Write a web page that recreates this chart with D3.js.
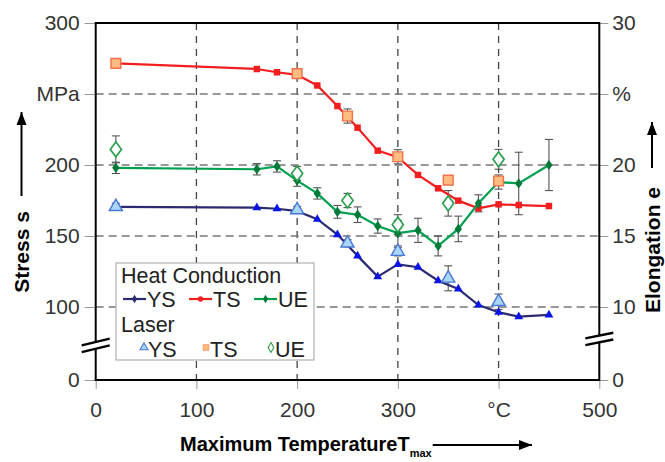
<!DOCTYPE html>
<html><head><meta charset="utf-8">
<script src="https://cdn.jsdelivr.net/npm/d3@7"></script>
<style>
html,body{margin:0;padding:0;background:#fff;}
svg{display:block;font-family:"Liberation Sans",Arial,sans-serif;}
</style></head>
<body><svg id="c" width="665" height="462"></svg>
<script>
// ---- data ----
const hcTemps = [20,160,180,200,220,240,260,280,300,320,340,360,380,400,420,450];
const hcYS = [170.5,170,169.2,167.5,161.8,151,136,121.4,130,128,118.5,112.7,101.4,96.3,93.2,94.4];
const hcTS = [271.5,267.6,265.3,263.5,256,241.5,226.3,210.1,205.5,193,183.6,174.9,169.5,172.3,171.8,171.1];
const hcUE = [19.8,19.7,19.9,18.9,18.0,16.7,16.5,15.7,15.2,15.4,14.3,15.5,17.3,18.8,18.7,20.0];
const hcUEerr = [0.4,0.4,0.4,0.4,0.4,0.45,0.55,0.5,0.9,0.85,0.7,0.9,0.6,0.5,2.2,1.8];
const laserTemps = [20,200,250,300,350,400];
const laserYS = [170.6,168.3,144.9,139,120.2,103.7];
const laserYSerr = [2.5,2.5,2.5,3,8.8,5.4];
const laserTS = [271.6,264.3,234.5,205.8,189.4,188.7];
const laserTSerr = [0,2,5,5,0,2];
const laserUE = [21.1,19.4,17.5,15.8,17.3,20.4];
const laserUEerr = [0.95,0.5,0.5,0.7,0.9,0.7];
const xTicks = [0,100,200,300,400,500];
const xTickLabels = ["0","100","200","300","°C","500"];
const yTicks = [0,100,150,200,250,300];
const yTickLabels = ["0","100","150","200","MPa","300"];
const y2Ticks = [0,10,15,20,25,30];
const y2TickLabels = ["0","10","15","20","%","30"];

// ---- layout ----
const L=95.7, R=599.3, T=23, B=380;
const svg = d3.select("#c");
const x = d3.scaleLinear().domain([0,500]).range([L,R]);
// broken axis: 0 placed just below 50, linear from 50 to 300
const y = d3.scaleLinear().domain([0,50,300]).range([B,378,T]);
const y2 = d3.scaleLinear().domain([0,5,30]).range([B,378,T]);
const FS = 21;

// grid
const g = svg.append("g");
g.selectAll("line.vg").data([100,200,300,400]).join("line")
 .attr("x1",d=>x(d)).attr("x2",d=>x(d)).attr("y1",T).attr("y2",B)
 .attr("stroke","#444").attr("stroke-width",1.3).attr("stroke-dasharray","7,6");
g.selectAll("line.hg").data([100,150,200,250]).join("line")
 .attr("x1",L).attr("x2",R).attr("y1",d=>y(d)).attr("y2",d=>y(d))
 .attr("stroke","#777").attr("stroke-width",1.5).attr("stroke-dasharray","8,5");

// axes
function styleAxis(sel){
  sel.select(".domain").remove();
  sel.selectAll(".tick line").attr("stroke","#999").attr("stroke-width",1);
  sel.selectAll(".tick text").attr("fill","#333").style("font-size",FS+"px");
}
svg.append("g").attr("transform",`translate(${L},0)`)
 .call(d3.axisLeft(y).tickValues(yTicks).tickFormat((d,i)=>yTickLabels[i]).tickSize(11).tickPadding(5))
 .call(styleAxis);
svg.append("g").attr("transform",`translate(${R},0)`)
 .call(d3.axisRight(y2).tickValues(y2Ticks).tickFormat((d,i)=>y2TickLabels[i]).tickSize(9).tickPadding(4))
 .call(styleAxis);
svg.append("g").attr("transform",`translate(0,${B})`)
 .call(d3.axisBottom(x).tickValues(xTicks).tickFormat((d,i)=>xTickLabels[i]).tickSize(9).tickPadding(13))
 .call(styleAxis);

// frame
svg.append("rect").attr("x",L).attr("y",T).attr("width",R-L).attr("height",B-T)
 .attr("fill","none").attr("stroke","#000").attr("stroke-width",2);

// axis breaks
function brk(cx,cy,slope){
  const w=14, gap=3.4;
  const bg = svg.append("g");
  bg.append("path").attr("d",`M${cx-w},${cy-gap+w*slope}L${cx+w},${cy-gap-w*slope}L${cx+w},${cy+gap-w*slope}L${cx-w},${cy+gap+w*slope}Z`)
    .attr("fill","#fff");
  [-gap,gap].forEach(o=>bg.append("line").attr("x1",cx-w).attr("y1",cy+o+w*slope).attr("x2",cx+w).attr("y2",cy+o-w*slope)
    .attr("stroke","#000").attr("stroke-width",2.4));
}
brk(L,y(73),0.24);
brk(R,y(77.5),0.2);

// error bars
function errBars(temps, vals, errs, sc){
  const eg = svg.append("g").attr("stroke","#555").attr("stroke-width",1.1);
  temps.forEach((t,i)=>{
    if(!errs[i]) return;
    const cx=x(t), y1=sc(vals[i]+errs[i]), y0=sc(vals[i]-errs[i]);
    eg.append("line").attr("x1",cx).attr("x2",cx).attr("y1",y1).attr("y2",y0);
    eg.append("line").attr("x1",cx-4).attr("x2",cx+4).attr("y1",y1).attr("y2",y1);
    eg.append("line").attr("x1",cx-4).attr("x2",cx+4).attr("y1",y0).attr("y2",y0);
  });
}
errBars(hcTemps,hcUE,hcUEerr,y2);
errBars(laserTemps,laserYS,laserYSerr,y);
errBars(laserTemps,laserTS,laserTSerr,y);
errBars(laserTemps,laserUE,laserUEerr,y2);

// lines
const colYSline="#2a2a70", colYS="#0a14e6", colTS="#f01e1e", colUEline="#00a050", colUE="#007a38";
function series(temps, vals, sc, lineCol, mk, mkCol, mkSize, sx){
  const line = d3.line().x((d,i)=>x(temps[i])).y(d=>sc(d));
  svg.append("path").datum(vals).attr("d",line).attr("fill","none").attr("stroke",lineCol).attr("stroke-width",2.2);
  svg.append("g").selectAll("path").data(vals).join("path")
   .attr("transform",(d,i)=>`translate(${x(temps[i])},${sc(d)}) scale(${sx||1},1)`)
   .attr("d",d3.symbol().type(mk).size(mkSize)).attr("fill",mkCol);
}
series(hcTemps,hcYS,y,colYSline,d3.symbolTriangle,colYS,34);
series(hcTemps,hcTS,y,colTS,d3.symbolSquare,colTS,42);
series(hcTemps,hcUE,y2,colUEline,d3.symbolDiamond,colUE,30,1.25);

// laser markers
function laser(temps, vals, sc, mk, size, fill, stroke, sx){
  svg.append("g").selectAll("path").data(vals).join("path")
   .attr("transform",(d,i)=>`translate(${x(temps[i])},${sc(d)}) scale(${sx||1},1)`)
   .attr("d",d3.symbol().type(mk).size(size)).attr("fill",fill).attr("stroke",stroke).attr("stroke-width",1.4);
}
laser(laserTemps,laserYS,y,d3.symbolTriangle,75,"#a9d6f5","#4a78d8");
laser(laserTemps,laserTS,y,d3.symbolSquare,95,"#ffbb80","#f07048");
laser(laserTemps,laserUE,y2,d3.symbolDiamond,64,"#fff","#2aa050",1.3);

// legend
const LFS = 21.5;
const lg = svg.append("g");
lg.append("rect").attr("x",116).attr("y",263).attr("width",198).attr("height",97)
 .attr("fill","#fff").attr("stroke","#b0b0b0").attr("stroke-width",1.2);
const lt = (tx,ty,s)=>lg.append("text").attr("x",tx).attr("y",ty).text(s).style("font-size",LFS+"px").attr("fill","#222");
lt(121,282.5,"Heat Conduction");
lt(121,332,"Laser");
const hcItems=[{x0:123,lc:colYSline,mk:d3.symbolDiamond,mc:colYSline,t:"YS"},
               {x0:189,lc:colTS,mk:d3.symbolCircle,mc:colTS,t:"TS"},
               {x0:254,lc:colUEline,mk:d3.symbolDiamond,mc:colUE,t:"UE"}];
hcItems.forEach(it=>{
  lg.append("line").attr("x1",it.x0).attr("x2",it.x0+23).attr("y1",299).attr("y2",299).attr("stroke",it.lc).attr("stroke-width",2.2);
  lg.append("path").attr("transform",`translate(${it.x0+11.5},299)`).attr("d",d3.symbol().type(it.mk).size(22)).attr("fill",it.mc);
  lt(it.x0+24,307,it.t);
});
const lzItems=[{cx:144,mk:d3.symbolTriangle,s:28,f:"#a9d6f5",st:"#4a78d8",t:"YS"},
               {cx:206,mk:d3.symbolSquare,s:30,f:"#ffbb80",st:"#f5a070",t:"TS"},
               {cx:271,mk:d3.symbolDiamond,s:28,f:"#fff",st:"#2aa050",t:"UE"}];
lzItems.forEach(it=>{
  lg.append("path").attr("transform",`translate(${it.cx},347.5)`).attr("d",d3.symbol().type(it.mk).size(it.s))
    .attr("fill",it.f).attr("stroke",it.st).attr("stroke-width",1.1);
  lt(it.cx+4,356.5,it.t);
});

// arrow helper
function arrow(x1,y1,x2,y2){
  svg.append("line").attr("x1",x1).attr("y1",y1).attr("x2",x2).attr("y2",y2).attr("stroke","#000").attr("stroke-width",2);
  const a=Math.atan2(y2-y1,x2-x1), len=13, hw=5;
  const bx=x2-len*Math.cos(a), by=y2-len*Math.sin(a);
  const px=-Math.sin(a)*hw, py=Math.cos(a)*hw;
  svg.append("path").attr("d",`M${x2},${y2}L${bx+px},${by+py}L${bx-px},${by-py}Z`).attr("fill","#000");
}

// axis titles
svg.append("text").attr("transform","translate(21,252) rotate(-90)").attr("text-anchor","middle")
 .attr("dominant-baseline","central").style("font-size","21px").style("font-weight","bold").text("Stress s");
arrow(21.5,196,21.5,112);
svg.append("text").attr("transform","translate(652,250) rotate(-90)").attr("text-anchor","middle")
 .attr("dominant-baseline","central").style("font-size","21px").style("font-weight","bold").text("Elongation e");
arrow(652,168,652,122);
const xt = svg.append("text").attr("x",180).attr("y",451).style("font-size","20px").style("font-weight","bold");
xt.append("tspan").text("Maximum TemperatureT");
xt.append("tspan").attr("dy",6).style("font-size","11px").text("max");
const xtEnd = 180 + xt.node().getComputedTextLength();
arrow(xtEnd+1,445,532,445);
</script></body></html>
